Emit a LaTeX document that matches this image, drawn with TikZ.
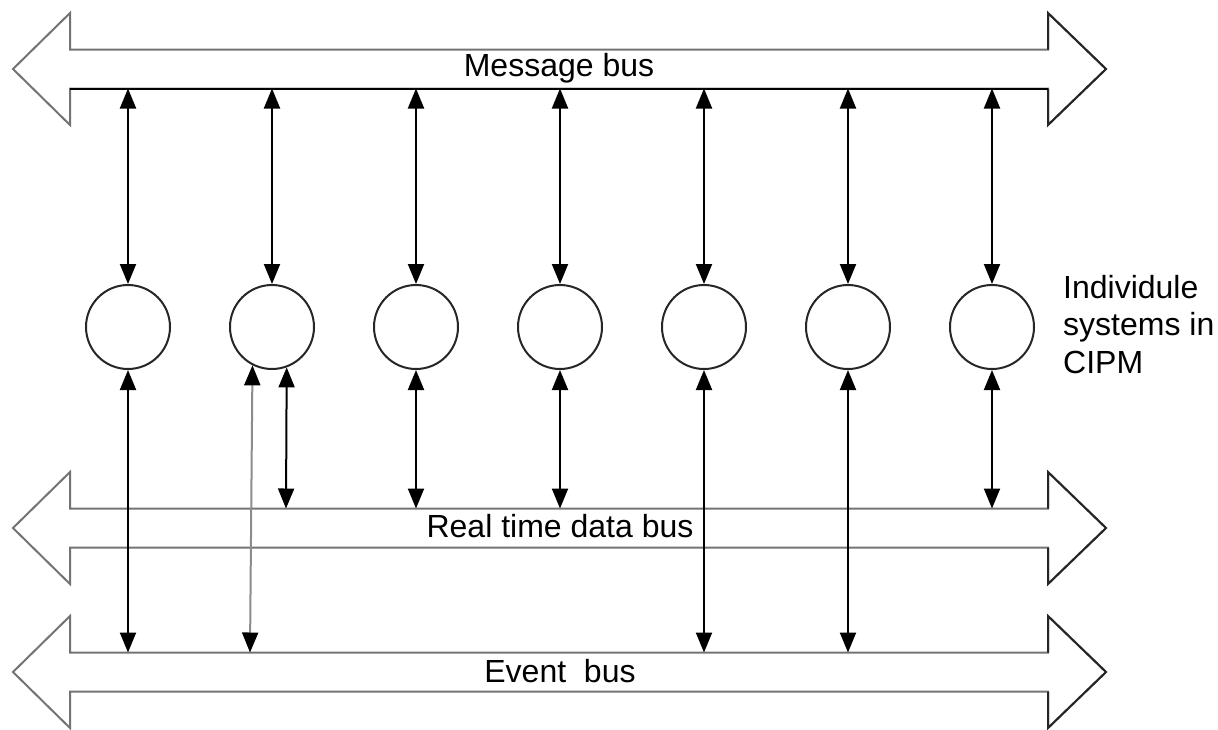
\documentclass[tikz,border=0pt]{standalone}
\usepackage{fontspec}
\setmainfont{Liberation Sans}
\usetikzlibrary{arrows.meta}
\newcommand\drawbus[1]{%
  \draw[busline] (13,#1) -- (70,#1-56) -- (70,#1-19.5) -- (1048,#1-19.5) -- (1048,#1-56)
     -- (1106,#1) -- (1048,#1+56) -- (1048,#1+19.5) -- (70,#1+19.5) -- (70,#1+56) -- cycle;
  \draw[bushead] (1048,#1-19.5) -- (1048,#1-56) -- (1106,#1) -- (1048,#1+56) -- (1048,#1+19.5);
}
\begin{document}
\begin{tikzpicture}[x=1pt,y=-1pt,
  busline/.style={draw=black!55, line width=2pt, line join=miter},
  bushead/.style={draw=black!85, line width=2pt, line join=miter},
  sys/.style={circle, draw=black!85, line width=2pt, minimum size=84pt, inner sep=0pt},
  tipA/.tip={Triangle[length=20pt,width=16pt,color=black]},
  link/.style={draw=black, line width=2pt, tipA-tipA},
  greylink/.style={link, draw=black!45},
  buslabel/.style={font=\fontsize{32}{36}\selectfont, anchor=base, inner sep=0pt},
  sidelabel/.style={font=\fontsize{32}{37.5}\selectfont, align=left, anchor=north west, inner sep=0pt},
]
\useasboundingbox (0,0) rectangle (1218,729);
% buses
\drawbus{69}
\drawbus{528}
\drawbus{672}
\draw[draw=black, line width=2pt] (70,88.5) -- (1048,88.5);
% systems
\foreach \i/\x in {1/128,2/272,3/416,4/560,5/704,6/848,7/992}{
  \node[sys] (c\i) at (\x,327) {};
  \coordinate (m\i) at (\x,88.5);
  \coordinate (r\i) at (\x,508.5);
  \coordinate (e\i) at (\x,652.5);
}
\coordinate (r2) at (286,508.5);
\coordinate (e2) at (250,652.5);
% connectors
\foreach \i in {1,...,7} \draw[link] (m\i) -- (c\i.north);
\draw[link] (c1.south) -- (e1);
\draw[greylink] (c2.-117) -- (e2);
\draw[link] (c2.-70) -- (r2);
\draw[link] (c3.south) -- (r3);
\draw[link] (c4.south) -- (r4);
\draw[link] (c5.south) -- (e5);
\draw[link] (c6.south) -- (e6);
\draw[link] (c7.south) -- (r7);
% labels
\node[buslabel] (lm) at (559,76) {Message bus};
\node[buslabel] (lr) at (560,537) {Real time data bus};
\node[buslabel] (le) at (560,682) {Event\ \ bus};
\node[sidelabel] (ls) at (1063,275) {Individule\\systems in\\CIPM};
\end{tikzpicture}
\end{document}
